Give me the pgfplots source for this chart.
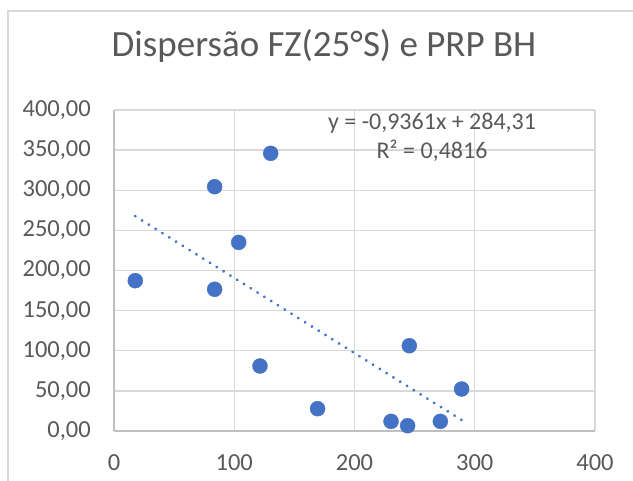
\documentclass[border=0pt]{standalone}
\usepackage{pgfplots}
\pgfplotsset{compat=1.18}
\usepackage{fontspec}
\setmainfont{Carlito}
\definecolor{txtc}{HTML}{595959}
\definecolor{gridc}{HTML}{D9D9D9}
\definecolor{axisc}{HTML}{BFBFBF}
\definecolor{ptc}{HTML}{4472C4}
\begin{document}
\begin{tikzpicture}[x=1pt,y=1pt]
\useasboundingbox (0,0) rectangle (633,481);
\draw[draw=gridc, line width=1.8pt] (8,0) -- (8,470);
\draw[draw=gridc, line width=1.8pt] (7.1,470) -- (633,470);
\node[anchor=base, text=txtc, font=\fontsize{37}{41}\selectfont, inner sep=0] at (324,424) {Dispersão FZ(25°S) e PRP BH};
\begin{axis}[
  at={(114pt,50pt)}, anchor=origin,
  scale only axis, width=481pt, height=321pt,
  xmin=0, xmax=400, ymin=0, ymax=400,
  xtick={0,100,200,300,400},
  ytick={0,50,100,150,200,250,300,350,400},
  grid=major,
  major grid style={draw=gridc, line width=1.3pt},
  axis x line=bottom, axis y line=left,
  axis line style={draw=axisc, line width=1.6pt, -},
  major tick length=0pt,
  /pgf/number format/assume math mode=true,
  tick label style={font=\fontsize{24.5}{28}\selectfont, text=txtc, inner sep=0pt},
  xticklabel style={anchor=north, yshift=-23pt},
  yticklabel style={anchor=east, xshift=-23pt, /pgf/number format/.cd, fixed, fixed zerofill, precision=2, use comma, 1000 sep={}},
  xticklabel style={/pgf/number format/.cd, 1000 sep={}},
  clip=false,
]
\addplot[only marks, mark=*, mark size=7.5pt, mark options={draw=ptc, fill=ptc}] coordinates {
(17.7,187.3) (83.7,304.4) (83.7,176.6) (103.7,235.0) (130.3,346.0) (121.4,81.0)
(169.3,27.8) (230.4,12.0) (244.2,6.6) (245.6,106.3) (271.4,12.0) (289.1,52.3)
};
\addplot[draw=ptc, line width=3.2pt, line cap=round, dash pattern=on 0.01pt off 8pt] coordinates {(17.7,267.7) (289.1,13.68)};
\node[text=txtc, font=\fontsize{24}{28}\selectfont, inner sep=0] at (axis cs:264.5,384) {y = -0,9361x + 284,31};
\node[text=txtc, font=\fontsize{24}{28}\selectfont, inner sep=0] at (axis cs:264.5,349) {R² = 0,4816};
\end{axis}
\end{tikzpicture}
\end{document}
